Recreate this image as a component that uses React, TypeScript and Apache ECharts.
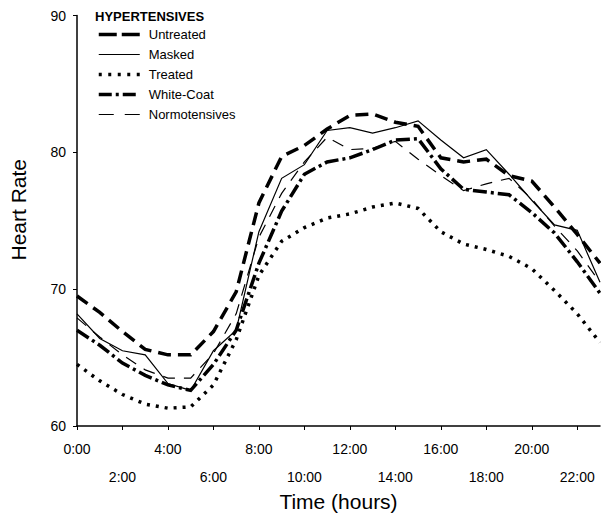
import React, { useEffect, useRef } from 'react';
import * as echarts from 'echarts';

const hours = ['0:00', '1:00', '2:00', '3:00', '4:00', '5:00', '6:00', '7:00', '8:00', '9:00', '10:00', '11:00',
  '12:00', '13:00', '14:00', '15:00', '16:00', '17:00', '18:00', '19:00', '20:00', '21:00', '22:00', '23:00'];

const untreated = [69.5, 68.3, 66.9, 65.6, 65.2, 65.2, 66.9, 69.8, 76.3, 79.7, 80.5, 81.7, 82.7, 82.8, 82.2, 81.9, 79.6, 79.3, 79.5, 78.3, 77.9, 76.0, 74.0, 71.9];
const masked = [68.2, 66.4, 65.5, 65.2, 63.1, 62.6, 65.5, 67.0, 74.2, 78.1, 79.1, 81.6, 81.8, 81.4, 81.8, 82.3, 80.9, 79.6, 80.2, 78.4, 76.5, 74.7, 74.3, 70.5];
const treated = [64.5, 63.3, 62.3, 61.6, 61.3, 61.4, 63.0, 66.3, 71.0, 73.5, 74.5, 75.2, 75.5, 76.0, 76.3, 75.9, 74.2, 73.3, 72.9, 72.4, 71.5, 69.9, 68.2, 66.1];
const whiteCoat = [67.0, 65.9, 64.6, 63.7, 63.0, 62.6, 64.5, 67.0, 71.9, 75.7, 78.4, 79.3, 79.6, 80.2, 80.9, 81.0, 78.8, 77.3, 77.1, 76.9, 75.6, 74.1, 72.0, 69.7];
const normotensives = [67.9, 66.5, 65.2, 64.1, 63.5, 63.5, 65.3, 68.2, 73.8, 77.0, 79.3, 81.1, 80.2, 80.3, 80.8, 79.5, 78.3, 77.2, 77.7, 78.1, 76.6, 74.6, 72.8, 70.5];

const FONT = '"Liberation Sans", Arial, Helvetica, sans-serif';

export default function App() {
  const ref = useRef<HTMLDivElement>(null);
  useEffect(() => {
    const chart = echarts.init(ref.current as HTMLDivElement, null, { renderer: 'svg' });
    const mk = (name: string, data: number[], width: number, type: any) => ({
      name,
      type: 'line',
      data,
      symbol: 'none',
      silent: true,
      emphasis: { disabled: true },
      itemStyle: { color: '#000' },
      lineStyle: { color: '#000', width, type, cap: 'butt', join: 'miter' },
    });
    chart.setOption({
      animation: false,
      textStyle: { fontFamily: FONT },
      title: {
        text: 'HYPERTENSIVES',
        left: 95,
        top: 10,
        padding: 0,
        textStyle: { fontSize: 13, fontWeight: 'bold', color: '#000', fontFamily: FONT },
      },
      legend: {
        orient: 'vertical',
        left: 97,
        top: 28,
        itemWidth: 41,
        itemHeight: 14,
        itemGap: 7,
        padding: 0,
        selectedMode: false,
        itemStyle: { opacity: 0 },
        textStyle: { fontSize: 13, color: '#000', fontFamily: FONT, padding: [0, 0, 0, 4] },
        data: [
          { name: 'Untreated', lineStyle: { type: [18, 5], width: 3.5 } },
          { name: 'Masked', lineStyle: { width: 1.2 } },
          { name: 'Treated', lineStyle: { type: [3, 6.5], width: 3.5 } },
          { name: 'White-Coat', lineStyle: { type: [13, 4, 3, 4], width: 3.5 } },
          { name: 'Normotensives', lineStyle: { type: [15, 11], width: 1.2 } },
        ],
      },
      grid: { left: 76, right: 1, top: 15.5, bottom: 82.5 },
      xAxis: {
        type: 'category',
        data: hours,
        boundaryGap: false,
        axisLine: { lineStyle: { color: '#000', width: 1.5 } },
        axisTick: { interval: 1, length: 4, lineStyle: { color: '#000', width: 1 } },
        axisLabel: {
          interval: 1,
          margin: 16,
          fontSize: 14,
          color: '#000',
          fontFamily: FONT,
          formatter: (v: string, i: number) => (i % 4 === 0 ? `{a|${v}}` : `{b|${v}}`),
          rich: {
            a: { fontSize: 14, color: '#000', fontFamily: FONT },
            b: { fontSize: 14, color: '#000', fontFamily: FONT, padding: [28, 0, 0, 0] },
          },
        },
        splitLine: { show: false },
        name: 'Time (hours)',
        nameLocation: 'middle',
        nameGap: 65,
        nameTextStyle: { fontSize: 21, color: '#000', fontFamily: FONT },
      },
      yAxis: {
        type: 'value',
        min: 60,
        max: 90,
        interval: 10,
        splitLine: { show: false },
        axisLine: { show: true, lineStyle: { color: '#000', width: 1.5 } },
        axisTick: { show: true, length: 4, lineStyle: { color: '#000', width: 1 } },
        axisLabel: { margin: 11, fontSize: 14, color: '#000', fontFamily: FONT },
        name: 'Heart Rate',
        nameLocation: 'middle',
        nameGap: 48,
        nameTextStyle: { fontSize: 21, color: '#000', fontFamily: FONT, padding: [0, 0, 0, 22] },
      },
      series: [
        mk('Untreated', untreated, 3.5, [13, 7]),
        mk('Masked', masked, 1.2, 'solid'),
        mk('Treated', treated, 3.5, [3, 6]),
        mk('White-Coat', whiteCoat, 3.5, [14, 4, 3, 4]),
        mk('Normotensives', normotensives, 1.2, [12, 9]),
      ],
    });
    return () => chart.dispose();
  }, []);
  return <div ref={ref} style={{ position: 'absolute', left: 0, top: 0, width: 601, height: 517 }} />;
}
